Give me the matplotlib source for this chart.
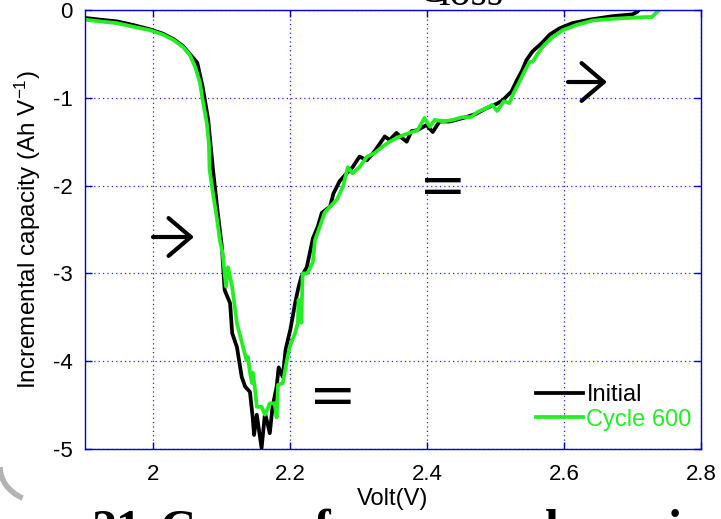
import numpy as np
import matplotlib
matplotlib.use("Agg")
import matplotlib.pyplot as plt
from matplotlib.patches import Arc, FancyArrowPatch

plt.rcParams['font.family'] = ['Liberation Sans', 'DejaVu Sans']
plt.rcParams['axes.unicode_minus'] = False
plt.rcParams['mathtext.fontset'] = 'custom'
plt.rcParams['mathtext.rm'] = 'Liberation Sans'
plt.rcParams['mathtext.default'] = 'regular'

# data
# -------------------------------------------------------------------------------------
volt_initial = [1.900, 1.922, 1.947, 1.970, 1.995, 2.014, 2.029, 2.043, 2.053, 2.064,
                2.072, 2.080, 2.087, 2.094, 2.100, 2.104, 2.112, 2.115, 2.122, 2.129,
                2.134, 2.141, 2.145, 2.147, 2.151, 2.158, 2.163, 2.170, 2.174, 2.180,
                2.183, 2.189, 2.193, 2.200, 2.207, 2.211, 2.216, 2.224, 2.233, 2.240,
                2.246, 2.258, 2.263, 2.272, 2.280, 2.291, 2.301, 2.312, 2.321, 2.331,
                2.338, 2.345, 2.355, 2.362, 2.370, 2.377, 2.385, 2.399, 2.408, 2.418,
                2.433, 2.443, 2.457, 2.472, 2.486, 2.501, 2.510, 2.523, 2.531, 2.538,
                2.545, 2.554, 2.567, 2.579, 2.593, 2.612, 2.637, 2.671, 2.700, 2.707,
                2.712]
ic_initial = [-0.09, -0.11, -0.13, -0.17, -0.22, -0.27, -0.33, -0.41, -0.50, -0.60,
              -0.88, -1.25, -1.82, -2.31, -2.70, -3.19, -3.34, -3.68, -3.84, -4.18,
              -4.29, -4.35, -4.64, -4.84, -4.61, -4.99, -4.59, -4.82, -4.52, -4.29,
              -4.07, -4.18, -3.87, -3.64, -3.34, -3.19, -3.04, -2.93, -2.60, -2.47,
              -2.31, -2.24, -2.09, -1.95, -1.88, -1.79, -1.67, -1.71, -1.63, -1.52,
              -1.44, -1.48, -1.40, -1.45, -1.50, -1.38, -1.37, -1.31, -1.39, -1.27,
              -1.27, -1.25, -1.22, -1.18, -1.12, -1.07, -1.03, -0.93, -0.80, -0.70,
              -0.57, -0.47, -0.38, -0.28, -0.21, -0.15, -0.11, -0.07, -0.05, -0.02,
              0.02]

volt_600 = [1.900, 1.922, 1.947, 1.970, 1.995, 2.014, 2.029, 2.043, 2.053, 2.061,
            2.068, 2.072, 2.078, 2.081, 2.082, 2.087, 2.093, 2.097, 2.101, 2.106,
            2.109, 2.115, 2.122, 2.131, 2.136, 2.138, 2.141, 2.144, 2.145, 2.148,
            2.151, 2.158, 2.163, 2.170, 2.177, 2.180, 2.182, 2.189, 2.195, 2.199,
            2.207, 2.211, 2.212, 2.216, 2.218, 2.225, 2.233, 2.236, 2.243, 2.250,
            2.258, 2.268, 2.277, 2.284, 2.291, 2.301, 2.312, 2.323, 2.334, 2.345,
            2.360, 2.374, 2.386, 2.396, 2.404, 2.411, 2.423, 2.438, 2.452, 2.464,
            2.474, 2.486, 2.495, 2.502, 2.512, 2.520, 2.526, 2.536, 2.542, 2.550,
            2.554, 2.562, 2.571, 2.583, 2.598, 2.618, 2.642, 2.671, 2.720, 2.728,
            2.739]
ic_600 = [-0.11, -0.13, -0.15, -0.19, -0.23, -0.28, -0.34, -0.42, -0.51, -0.65,
          -0.83, -1.03, -1.29, -1.52, -1.82, -2.09, -2.39, -2.62, -2.77, -3.15,
          -2.93, -3.15, -3.57, -3.84, -3.99, -3.95, -4.13, -4.25, -4.13, -4.29,
          -4.52, -4.52, -4.61, -4.48, -4.48, -4.64, -4.27, -4.25, -3.99, -3.84,
          -3.68, -3.56, -3.30, -3.56, -3.00, -3.00, -2.87, -2.62, -2.47, -2.31,
          -2.24, -2.16, -2.01, -1.79, -1.86, -1.79, -1.67, -1.63, -1.56, -1.50,
          -1.44, -1.40, -1.37, -1.23, -1.33, -1.25, -1.27, -1.25, -1.22, -1.22,
          -1.16, -1.12, -1.08, -1.15, -1.04, -1.06, -0.95, -0.80, -0.70, -0.59,
          -0.59, -0.49, -0.40, -0.31, -0.23, -0.17, -0.12, -0.10, -0.08, -0.08,
          0.00]

x_ticks = [2.0, 2.2, 2.4, 2.6, 2.8]
x_tick_labels = ["2", "2.2", "2.4", "2.6", "2.8"]
y_ticks = [0, -1, -2, -3, -4, -5]

GREEN = '#22ee22'
BLUE = '#0000cc'

W, H = 721, 519


def px(x, y):
    # pixel position in the picture -> figure fraction
    return x / W, 1 - y / H


# plot
# -------------------------------------------------------------------------------------
fig = plt.figure(figsize=(W / 100, H / 100), dpi=100)
ax = fig.add_axes([85 / W, 70 / H, 616 / W, 439 / H])

ax.plot(volt_initial, ic_initial, color='black', lw=2.7, label='Initial')
ax.plot(volt_600, ic_600, color=GREEN, lw=2.7, label='Cycle 600')

ax.set_xlim(1.9, 2.8)
ax.set_ylim(-5, 0)
ax.set_xticks(x_ticks)
ax.set_xticklabels(x_tick_labels)
ax.set_yticks(y_ticks)
ax.set_yticklabels([str(v) for v in y_ticks])

ax.grid(True, color='#2222ff', linestyle=(0, (1, 2.5)), lw=0.9)
for s in ax.spines.values():
    s.set_color(BLUE)
    s.set_linewidth(1.0)
ax.tick_params(direction='in', length=5, width=1, color=BLUE, labelsize=16,
               top=True, right=True, pad=9)
ax.tick_params(axis='x', pad=11)

ax.set_xlabel('Volt(V)', fontsize=17, labelpad=2)
ax.set_ylabel('Incremental capacity (Ah V$^{-1}$)', fontsize=17.5, labelpad=7)

leg = ax.legend(loc='lower right', bbox_to_anchor=(0.985, 0.042), frameon=False,
                fontsize=17, handlelength=2.0, handletextpad=0.15,
                labelspacing=0.1, borderpad=0, borderaxespad=0)
leg.get_texts()[1].set_color(GREEN)

# glyphs from the surrounding equations, cut off by the crop
# -------------------------------------------------------------------------------------
for (x0, x1, y) in [(153, 194, 237), (568, 607, 82)]:
    fig.add_artist(FancyArrowPatch(
        (x0, H - y), (x1, H - y), transform=None, color='black', lw=3,
        arrowstyle='->,head_length=1.0,head_width=0.85', mutation_scale=16,
        shrinkA=0, shrinkB=0))
for (x, y) in [(443, 189), (333, 398)]:
    fig.text(*px(x, y), '=', ha='center', va='center', fontsize=41,
             family='DejaVu Sans')

fig.text(*px(417, 2), 'C', ha='left', va='baseline', fontsize=30,
         family='Liberation Serif')
fig.text(*px(438, 5), 'loss', ha='left', va='baseline', fontsize=30,
         family='Liberation Serif')

caption_bits = [(92, '21'), (160, 'C'), (314, 'f'), (545, 'l'), (668, 'i')]
for x, s in caption_bits:
    fig.text(*px(x, 509), s, ha='left', va='top', fontsize=36,
             family='Liberation Serif', weight='bold')

fig.patches.append(Arc((42, 52), 84, 70, theta1=180, theta2=238, color='#b3b3b3',
                       lw=4, transform=None))

fig.savefig('out.png', dpi=100)
